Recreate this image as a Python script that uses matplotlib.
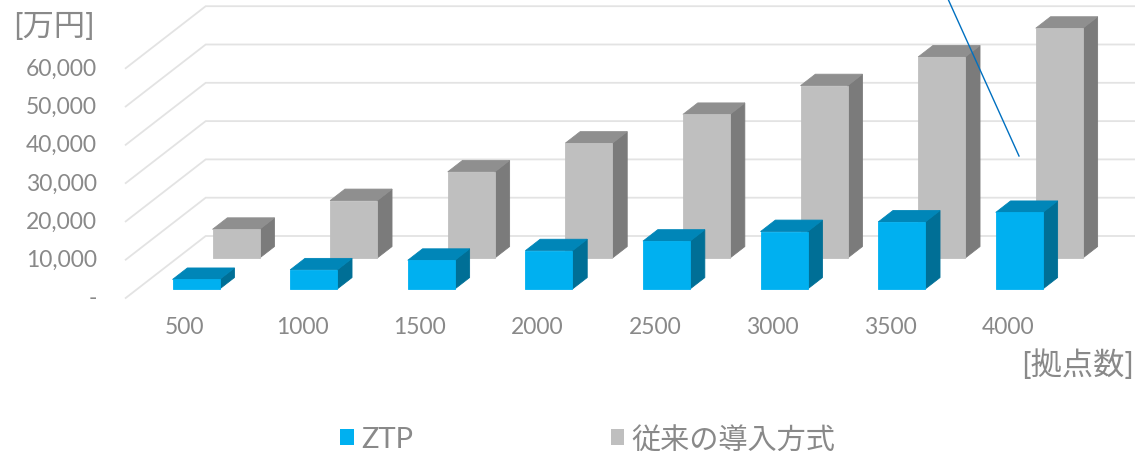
import matplotlib
matplotlib.use("Agg")
import matplotlib.pyplot as plt
from matplotlib.patches import Polygon, Patch

# ---------------- data ----------------
categories = ["500", "1000", "1500", "2000", "2500", "3000", "3500", "4000"]
ztp = [2500, 5000, 7500, 10000, 12500, 15000, 17500, 20000]
conventional = [7500, 15000, 22500, 30000, 37500, 45000, 52500, 60000]
series_names = ["ZTP", "従来の導入方式"]
y_ticks = [0, 10000, 20000, 30000, 40000, 50000, 60000]
y_tick_labels = ["-", "10,000", "20,000", "30,000", "40,000", "50,000", "60,000"]
y_unit = "[万円]"
x_unit = "[拠点数]"

# ---------------- styling / geometry ----------------
W, H = 1135, 452
TXT = "#898989"
GRID = "#E3E3E3"
BLUE = ("#00B0F0", "#0086B8", "#006F96")   # front, top, side
GRAY = ("#BFBFBF", "#8F8F8F", "#7B7B7B")

PX_PER_CAT = 117.6
X0_PX = 184.5          # pixel x of category 0 at floor front
PX_PER_VAL = 38.3 / 10000
Y0_PX = 299.0          # pixel y of value 0 at floor front
DEPTH_DX_PX, DEPTH_DY_PX = 80.0, 62.0

DDX = DEPTH_DX_PX / PX_PER_CAT
DDY = DEPTH_DY_PX / PX_PER_VAL
BAR_HALF = 0.2
ROWS = [(0.145, 0.33), (0.645, 0.83)]  # depth ranges for ZTP (front) and conventional (back)
WALL_X = -0.5
FLOOR_END = len(categories) - 0.5 + 1.0


def px2x(px):
    return (px - X0_PX) / PX_PER_CAT


def px2y(py):
    return (Y0_PX - py) / PX_PER_VAL


def proj(x, v, d):
    return (x + d * DDX, v + d * DDY)


plt.rcParams["font.family"] = ["Lato", "Noto Sans CJK JP", "DejaVu Sans"]

fig = plt.figure(figsize=(W / 100, H / 100), dpi=100)
ax = fig.add_axes([0, 0, 1, 1])
ax.set_xlim(px2x(0), px2x(W))
ax.set_ylim(px2y(H), px2y(0))
ax.axis("off")

# gridlines on left wall and back wall
for v in y_ticks:
    p0 = proj(WALL_X, v, 0)
    p1 = proj(WALL_X, v, 1)
    p2 = proj(FLOOR_END, v, 1)
    ax.plot([p0[0], p1[0], p2[0]], [p0[1], p1[1], p2[1]], color=GRID, lw=1.3,
            solid_joinstyle="miter", zorder=1)


def bar3d(xc, val, d0, d1, cols, z):
    x0, x1 = xc - BAR_HALF, xc + BAR_HALF
    front = [proj(x0, 0, d0), proj(x1, 0, d0), proj(x1, val, d0), proj(x0, val, d0)]
    top = [proj(x0, val, d0), proj(x1, val, d0), proj(x1, val, d1), proj(x0, val, d1)]
    side = [proj(x1, 0, d0), proj(x1, 0, d1), proj(x1, val, d1), proj(x1, val, d0)]
    for pts, c in ((side, cols[2]), (top, cols[1]), (front, cols[0])):
        ax.add_patch(Polygon(pts, closed=True, facecolor=c, edgecolor=c,
                             lw=0.6, joinstyle="miter", zorder=z))


for k, v in enumerate(conventional):
    bar3d(k, v, ROWS[1][0], ROWS[1][1], GRAY, 2 + k * 0.01)
for k, v in enumerate(ztp):
    bar3d(k, v, ROWS[0][0], ROWS[0][1], BLUE, 3 + k * 0.01)

# y tick labels
for v, lab in zip(y_ticks, y_tick_labels):
    ax.text(px2x(97), v, lab, ha="right", va="center", fontsize=16.5, color=TXT)

# category labels
for k, lab in enumerate(categories):
    ax.text(k, px2y(328), lab, ha="center", va="center", fontsize=16.5, color=TXT)

# unit labels
ax.text(px2x(13), px2y(27), y_unit, ha="left", va="center", fontsize=22.5, color=TXT)
ax.text(px2x(1134), px2y(365), x_unit, ha="right", va="center", fontsize=22.5, color=TXT)

# stray connector line
ax.plot([px2x(948), px2x(1019)], [px2y(0), px2y(157)], color="#0070C0", lw=1.0, zorder=5)

# legend
handles = [Patch(facecolor=BLUE[0], edgecolor="none"), Patch(facecolor=GRAY[0], edgecolor="none")]
leg = ax.legend(handles, series_names, loc="center", bbox_to_anchor=(588 / W, 1 - 440 / H),
                ncol=2, frameon=False, fontsize=21, handlelength=0.45, handleheight=0.45,
                handletextpad=0.25, columnspacing=6.8, labelcolor=TXT)

fig.savefig("out.png", dpi=100)
